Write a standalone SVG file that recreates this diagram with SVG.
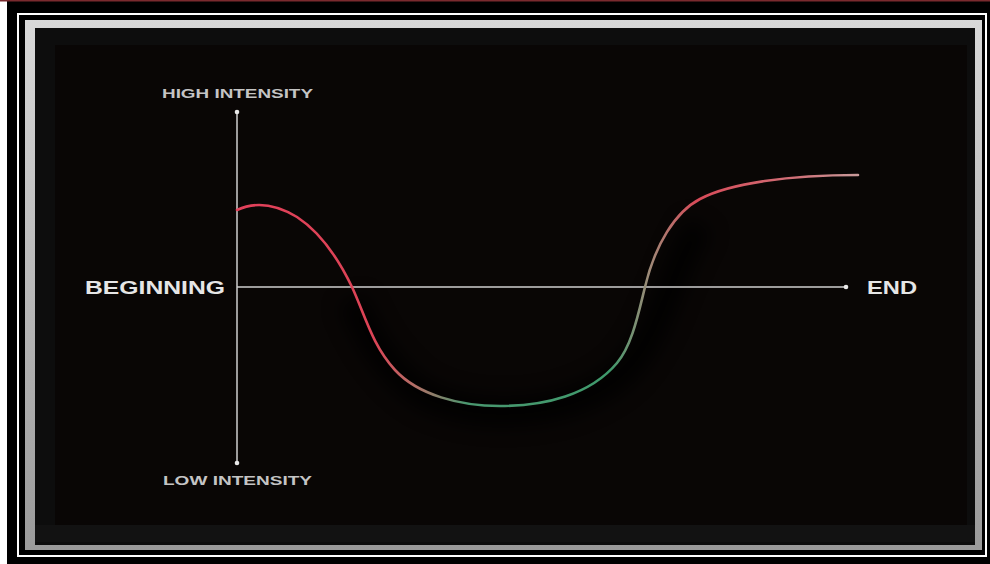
<svg xmlns="http://www.w3.org/2000/svg" width="990" height="564" viewBox="0 0 990 564">
  <defs>
    <linearGradient id="bevelH" x1="0" y1="0" x2="0" y2="1">
      <stop offset="0" stop-color="#d8d8d8"/>
      <stop offset="1" stop-color="#9a9a9a"/>
    </linearGradient>
    <linearGradient id="curveGrad" gradientUnits="userSpaceOnUse" x1="237" y1="0" x2="858" y2="0">
      <stop offset="0" stop-color="#e2405a"/>
      <stop offset="0.22" stop-color="#dc4456"/>
      <stop offset="0.29" stop-color="#b07268"/>
      <stop offset="0.37" stop-color="#4a9870"/>
      <stop offset="0.6" stop-color="#3f9a6c"/>
      <stop offset="0.665" stop-color="#a08a78"/>
      <stop offset="0.74" stop-color="#d84a58"/>
      <stop offset="0.9" stop-color="#d07078"/>
      <stop offset="1" stop-color="#c89a9a"/>
    </linearGradient>
    <filter id="blur" x="-20%" y="-20%" width="140%" height="140%">
      <feGaussianBlur stdDeviation="10"/>
    </filter>
    <style>
      .axis { stroke: #cfcfcf; stroke-width: 1.5; fill: none; }
      .dot { fill: #e8e8e8; }
      .lbl { font-family: "Liberation Sans", Arial, sans-serif; font-weight: bold; fill: #dcdcdc; }
      .small { font-size: 12.5px; fill: #c4c4c4; }
      .big { font-size: 18px; fill: #e6e6e6; }
    </style>
  </defs>

  <rect x="0" y="0" width="990" height="564" fill="#ffffff"/>
  <rect x="7" y="0" width="983" height="564" fill="#000000"/>
  <rect x="0" y="0" width="990" height="1.5" fill="#7a2a2e"/>
  <rect x="18" y="14" width="968" height="542" fill="none" stroke="#ffffff" stroke-width="2"/>

  <g id="frame">
    <rect x="25" y="20" width="957" height="530" fill="url(#bevelH)"/>
    <rect x="35" y="28" width="940" height="517" fill="#0d0d0d"/>
    <rect x="55" y="45" width="912" height="480" fill="#090605"/>
    <rect x="35" y="525" width="940" height="17" fill="#121212"/>
  </g>

  <g id="shadow">
    <path d="M352,300 C365,330 380,360 410,385 C450,420 560,425 620,375 C660,340 670,270 700,225" fill="none" stroke="#000000" stroke-width="28" opacity="0.8" filter="url(#blur)"/>
  </g>

  <g id="axes">
    <line class="axis" x1="237" y1="112" x2="237" y2="463"/>
    <line class="axis" x1="237" y1="287" x2="846" y2="287"/>
    <circle class="dot" cx="237" cy="112" r="2.3"/>
    <circle class="dot" cx="237" cy="463" r="2.3"/>
    <circle class="dot" cx="846" cy="287" r="2.3"/>
  </g>

  <g id="curve">
    <path d="M237,210 C252,203 272,202 297,217 C320,232 338,258 352,287 C365,315 372,345 395,370 C418,395 460,406 500,406 C545,406 590,395 617,363 C632,345 638,315 645,287 C655,245 675,212 700,199 C730,183 790,175 858,175" fill="none" stroke="url(#curveGrad)" stroke-width="2.6" stroke-linecap="round"/>
  </g>

  <g id="labels">
    <text class="lbl small" x="162" y="98" textLength="151" lengthAdjust="spacingAndGlyphs">HIGH INTENSITY</text>
    <text class="lbl small" x="163" y="485" textLength="149" lengthAdjust="spacingAndGlyphs">LOW INTENSITY</text>
    <text class="lbl big" x="85" y="294" textLength="140" lengthAdjust="spacingAndGlyphs">BEGINNING</text>
    <text class="lbl big" x="867" y="294" textLength="50" lengthAdjust="spacingAndGlyphs">END</text>
  </g>
</svg>
